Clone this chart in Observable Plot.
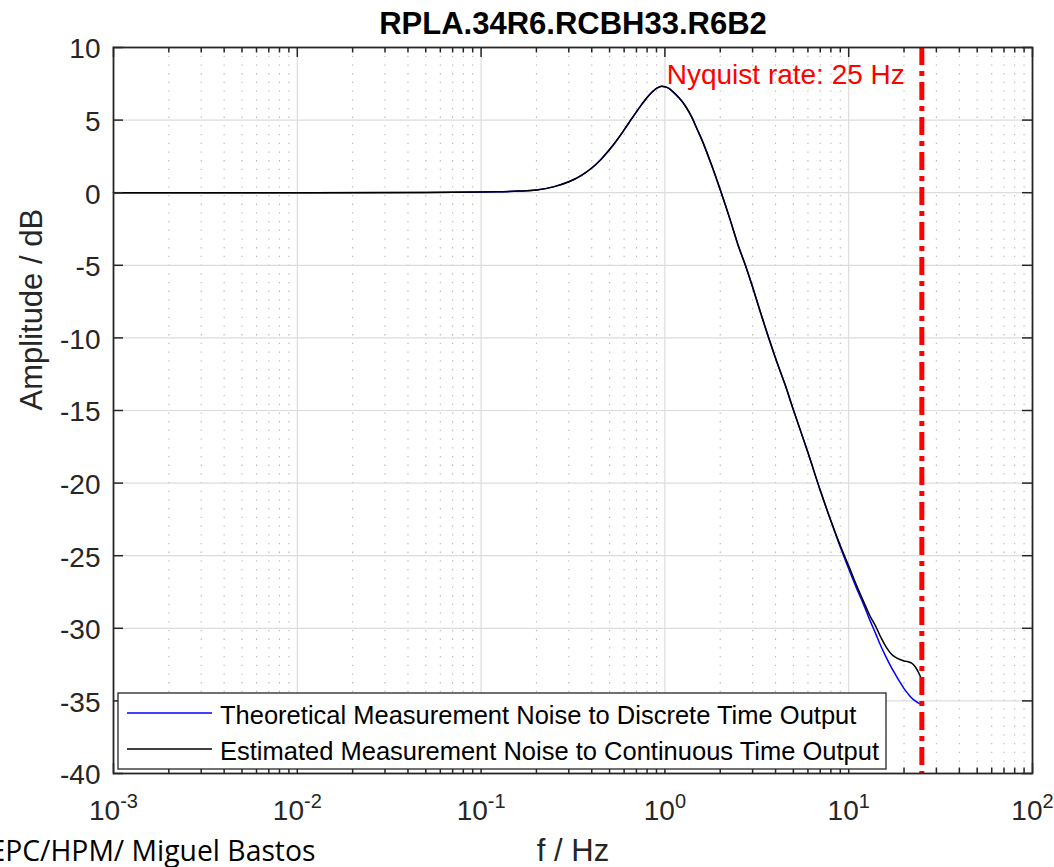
<!DOCTYPE html>
<html>
<head>
<meta charset="utf-8">
<script src="https://cdn.jsdelivr.net/npm/d3@7"></script>
<script src="https://cdn.jsdelivr.net/npm/@observablehq/plot@0.6"></script>
<style>
  html, body { margin: 0; padding: 0; background: #fff; }
  #wrap { position: relative; width: 1054px; height: 867px; overflow: hidden; }
</style>
</head>
<body>
<div id="wrap"></div>
<script>
// ---------------- data ----------------
const chartTitle = "RPLA.34R6.RCBH33.R6B2";
const xLabel = "f / Hz";
const yLabel = "Amplitude / dB";
const creditText = "EPC/HPM/ Miguel Bastos";
const nyquistHz = 25;
const nyquistLabel = "Nyquist rate: 25 Hz";
const seriesNames = [
  "Theoretical Measurement Noise to Discrete Time Output",
  "Estimated Measurement Noise to Continuous Time Output"
];
const seriesColors = ["#0000ff", "#000000"];

const freqHz = [0.001, 0.01, 0.05, 0.1, 0.13, 0.16, 0.2, 0.25, 0.3, 0.35, 0.4, 0.45, 0.5, 0.55,
  0.6, 0.65, 0.7, 0.75, 0.8, 0.85, 0.9, 0.95, 1.0, 1.05, 1.1, 1.2, 1.3, 1.4, 1.5, 1.6, 1.8, 2.0,
  2.25, 2.5, 2.75, 3.0, 3.5, 4.0, 4.5, 5.0, 6.0, 7.0, 8.0, 9.0, 10, 11, 12, 13, 14, 15, 16, 17,
  18, 19, 20, 21, 22, 23, 24, 24.7];
const theoreticalDb = [0, 0, 0.01, 0.04, 0.07, 0.11, 0.19, 0.42, 0.75, 1.18, 1.7, 2.31, 2.97, 3.65,
  4.33, 4.98, 5.57, 6.1, 6.56, 6.92, 7.19, 7.32, 7.29, 7.18, 6.98, 6.5, 5.92, 5.2, 4.35, 3.55, 1.85, 0.2,
  -1.75, -3.6, -5.05, -6.5, -9.2, -11.4, -13.2, -14.95, -17.9, -20.5, -22.6, -24.4, -25.9, -27.2,
  -28.3, -29.4, -30.35, -31.25, -32.0, -32.65, -33.2, -33.7, -34.15, -34.5, -34.8, -35.0, -35.15, -35.2];
const estimatedDb = [0, 0, 0.01, 0.04, 0.07, 0.11, 0.19, 0.42, 0.75, 1.18, 1.7, 2.31, 2.97, 3.65,
  4.33, 4.98, 5.57, 6.1, 6.56, 6.92, 7.19, 7.32, 7.29, 7.18, 6.98, 6.5, 5.92, 5.2, 4.35, 3.55, 1.85, 0.2,
  -1.75, -3.6, -5.05, -6.5, -9.2, -11.4, -13.2, -14.95, -17.9, -20.5, -22.6, -24.3, -25.7, -27.0,
  -28.1, -29.1, -29.85, -30.65, -31.3, -31.75, -32.0, -32.15, -32.25, -32.3, -32.4, -32.65, -33.05, -33.4];

const xDecades = [0.001, 0.01, 0.1, 1, 10, 100];
const xMinorMultipliers = [2, 3, 4, 5, 6, 7, 8, 9];
const yTicks = [-40, -35, -30, -25, -20, -15, -10, -5, 0, 5, 10];

// ---------------- layout ----------------
const W = 1054, H = 867;
const mL = 113, mR = 22, mT = 47, mB = 94;
const frameW = W - mL - mR, frameH = H - mT - mB;
const axisColor = "#262626";

const theoRows = freqHz.map((f, i) => ({f, db: theoreticalDb[i]}));
const estRows = freqHz.map((f, i) => ({f, db: estimatedDb[i]}));
const xMinor = xDecades.slice(0, -1).flatMap(d => xMinorMultipliers.map(m => m * d));
const xInner = xDecades.slice(1, -1);
const yInner = yTicks.slice(1, -1);

const svg = Plot.plot({
  width: W, height: H,
  marginLeft: mL, marginRight: mR, marginTop: mT, marginBottom: mB,
  style: {fontFamily: "'Liberation Sans', Arial, Helvetica, sans-serif", fontSize: "28px", color: axisColor, background: "#fff", overflow: "visible"},
  x: {type: "log", domain: [xDecades[0], xDecades[xDecades.length - 1]]},
  y: {domain: [yTicks[0], yTicks[yTicks.length - 1]]},
  marks: [
    // minor dotted grid
    Plot.ruleX(xMinor, {x: d => d, stroke: "#b5b5b5", strokeWidth: 1.1, strokeDasharray: "1.3,7.4"}),
    // major grid
    Plot.ruleX(xInner, {x: d => d, stroke: "#dcdcdc", strokeWidth: 1.2}),
    Plot.ruleY(yInner, {y: d => d, stroke: "#dcdcdc", strokeWidth: 1.2}),
    // series
    Plot.line(theoRows, {x: "f", y: "db", stroke: seriesColors[0], strokeWidth: 1.5, curve: "catmull-rom"}),
    Plot.line(estRows, {x: "f", y: "db", stroke: seriesColors[1], strokeWidth: 1.5, curve: "catmull-rom"}),
    // Nyquist
    Plot.ruleX([nyquistHz], {x: d => d, stroke: "#ff0000", strokeWidth: 5, strokeDasharray: "18,6,5,6"}),
    Plot.text([nyquistHz], {x: d => d, text: () => nyquistLabel, frameAnchor: "top", lineAnchor: "bottom",
      dy: 36, dx: -17, textAnchor: "end", fill: "#ff0000", fontSize: 28}),
    // inward ticks
    Plot.ruleX(xDecades, {x: d => d, insetTop: frameH - 10, stroke: axisColor, strokeWidth: 1.5}),
    Plot.ruleX(xDecades, {x: d => d, insetBottom: frameH - 10, stroke: axisColor, strokeWidth: 1.5}),
    Plot.ruleX(xMinor, {x: d => d, insetTop: frameH - 5.5, stroke: axisColor, strokeWidth: 1.5}),
    Plot.ruleX(xMinor, {x: d => d, insetBottom: frameH - 5.5, stroke: axisColor, strokeWidth: 1.5}),
    Plot.ruleY(yTicks, {y: d => d, insetRight: frameW - 10, stroke: axisColor, strokeWidth: 1.5}),
    Plot.ruleY(yTicks, {y: d => d, insetLeft: frameW - 10, stroke: axisColor, strokeWidth: 1.5}),
    Plot.frame({stroke: axisColor, strokeWidth: 1.8}),
    // axes labels
    Plot.axisX(xDecades, {tickSize: 0, tickPadding: 27, fontSize: 28, fill: axisColor, label: null,
      tickFormat: d => "10^" + Math.round(Math.log10(d))}),
    Plot.axisY(yTicks, {tickSize: 0, tickPadding: 13, fontSize: 28, fill: axisColor, label: null, dy: 2,
      tickFormat: d => String(d)}),
    // titles
    Plot.text([chartTitle], {frameAnchor: "top", lineAnchor: "bottom", dy: -14, fontSize: 31,
      fontWeight: "bold", fill: "#000"}),
    Plot.text([xLabel], {frameAnchor: "bottom", lineAnchor: "bottom", dy: 87, fontSize: 31, fill: axisColor}),
    Plot.text([yLabel], {frameAnchor: "left", lineAnchor: "bottom", rotate: -90, dx: 41 - mL, fontSize: 31, fill: axisColor}),
    Plot.text([creditText], {frameAnchor: "bottom-left", lineAnchor: "bottom", textAnchor: "start",
      dx: -11 - mL, dy: 87, fontSize: 30, fill: "#000", fontFamily: "'Open Sans', 'Noto Sans', sans-serif"})
  ]
});

const s = d3.select(svg);
// superscript exponents on x tick labels
s.selectAll('g[aria-label="x-axis tick label"] text').each(function () {
  const t = this.textContent;
  const parts = t.split("^");
  const sel = d3.select(this);
  sel.text(null);
  sel.append("tspan").text(parts[0]);
  sel.append("tspan").attr("font-size", 20).attr("dy", -12).text(parts[1]);
});
// credit text width
s.selectAll('g[aria-label="text"] text').filter(function () { return this.textContent === creditText; })
  .attr("textLength", 326).attr("lengthAdjust", "spacingAndGlyphs");

// legend
const lg = s.append("g").attr("class", "legend");
const lx = 118, ly = 693, lw = 768, lh = 76;
lg.append("rect").attr("x", lx).attr("y", ly).attr("width", lw).attr("height", lh)
  .attr("fill", "#fff").attr("stroke", axisColor).attr("stroke-width", 1.3);
const rowsY = [ly + 20, ly + 56];
seriesNames.forEach((name, i) => {
  lg.append("line").attr("x1", lx + 9).attr("x2", lx + 94).attr("y1", rowsY[i]).attr("y2", rowsY[i])
    .attr("stroke", seriesColors[i]).attr("stroke-width", 1.5);
  lg.append("text").attr("x", lx + 102).attr("y", rowsY[i] + 11).attr("text-anchor", "start")
    .attr("font-size", 25.5).attr("fill", "#000").text(name);
});

document.getElementById("wrap").appendChild(svg);
</script>
</body>
</html>
